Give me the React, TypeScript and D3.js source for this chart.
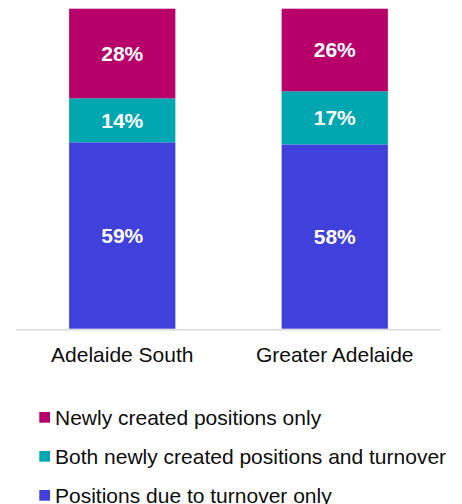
import React from "react";
import * as d3 from "d3";

const categories = ["Adelaide South", "Greater Adelaide"];
const seriesNames = [
  "Positions due to turnover only",
  "Both newly created positions and turnover",
  "Newly created positions only",
];
const turnoverOnly = [58.25, 57.6];
const bothValues = [13.75, 16.6];
const newlyOnly = [28.0, 25.8];
const turnoverLabels = ["59%", "58%"];
const bothLabels = ["14%", "17%"];
const newlyLabels = ["28%", "26%"];
const colors = ["#4040DB", "#00A7B1", "#B7006A"];

const W = 462;
const H = 504;

export default function App() {
  const x = d3.scaleBand<string>().domain(categories).range([16, 441]).paddingInner(0.5).paddingOuter(0.25);
  const y = d3.scaleLinear().domain([0, 100]).range([328.7, 8.7]);

  const rows = categories.map((c, i) => ({
    cat: c,
    s0: turnoverOnly[i],
    s1: bothValues[i],
    s2: newlyOnly[i],
  }));
  const stack = d3.stack<any>().keys(["s0", "s1", "s2"]);
  const series = stack(rows);
  const labels = [turnoverLabels, bothLabels, newlyLabels];

  const legendOrder = [2, 1, 0];
  const font = "Arial, 'Liberation Sans', sans-serif";

  return (
    <svg width={W} height={H} style={{ position: "absolute", left: 0, top: 0 }} fontFamily={font}>
      {series.map((s, si) => (
        <g key={si}>
          {s.map((d, i) => {
            const x0 = x(rows[i].cat)!;
            const yTop = y(d[1]);
            const yBot = y(d[0]);
            return (
              <g key={i}>
                <rect x={x0} y={yTop} width={x.bandwidth()} height={yBot - yTop} fill={colors[si]} />
                <text
                  x={x0 + x.bandwidth() / 2}
                  y={(yTop + yBot) / 2 + 7.5}
                  textAnchor="middle"
                  fontSize={21}
                  fontWeight="bold"
                  fill="#ffffff"
                >
                  {labels[si][i]}
                </text>
              </g>
            );
          })}
        </g>
      ))}
      <line x1={16} x2={441} y1={329.7} y2={329.7} stroke="#d9d9d9" strokeWidth={1.5} />
      {categories.map((c) => (
        <text key={c} x={x(c)! + x.bandwidth() / 2} y={362} textAnchor="middle" fontSize={21} fill="#0d0d0d">
          {c}
        </text>
      ))}
      {legendOrder.map((si, k) => (
        <g key={si} transform={`translate(0, ${k * 39})`}>
          <rect x={39.3} y={412} width={10.7} height={10.7} fill={colors[si]} />
          <text x={55} y={424.5} fontSize={21} fill="#0d0d0d">
            {seriesNames[si]}
          </text>
        </g>
      ))}
    </svg>
  );
}
